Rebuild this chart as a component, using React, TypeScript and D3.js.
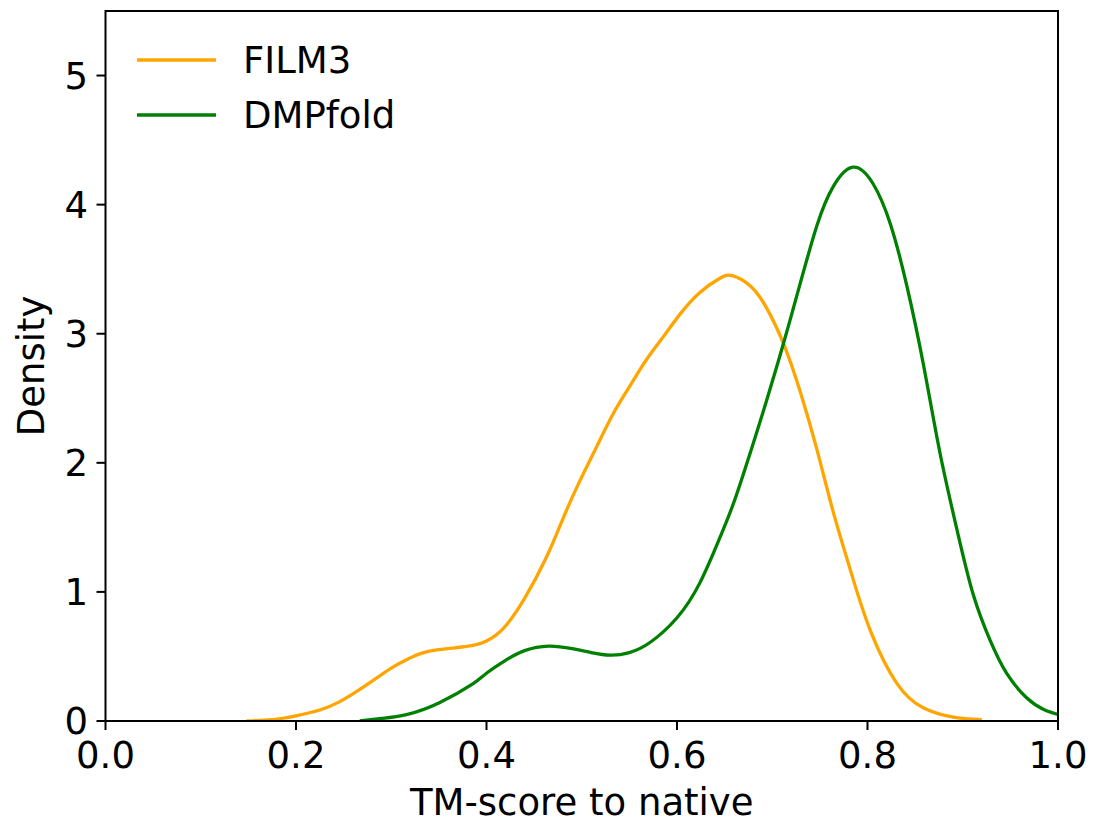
import React from "react";
import * as d3 from "d3";

const film3X = [0.148, 0.175, 0.2, 0.225, 0.246, 0.265, 0.281, 0.3, 0.316, 0.337, 0.365, 0.386, 0.4, 0.418, 0.44, 0.463, 0.481, 0.498, 0.516, 0.533, 0.551, 0.568, 0.586, 0.603, 0.624, 0.645, 0.658, 0.677, 0.694, 0.712, 0.729, 0.747, 0.764, 0.782, 0.803, 0.831, 0.859, 0.89, 0.92];
const film3Y = [0.0, 0.01, 0.04, 0.085, 0.15, 0.235, 0.315, 0.41, 0.475, 0.535, 0.565, 0.585, 0.62, 0.72, 0.95, 1.27, 1.58, 1.86, 2.13, 2.38, 2.6, 2.8, 2.98, 3.15, 3.32, 3.43, 3.45, 3.37, 3.2, 2.92, 2.56, 2.1, 1.62, 1.17, 0.7, 0.29, 0.1, 0.03, 0.01];

const dmpX = [0.267, 0.29, 0.316, 0.35, 0.386, 0.4, 0.42, 0.44, 0.465, 0.49, 0.51, 0.53, 0.55, 0.572, 0.6, 0.624, 0.645, 0.66, 0.677, 0.694, 0.712, 0.729, 0.747, 0.764, 0.785, 0.806, 0.824, 0.841, 0.859, 0.876, 0.894, 0.911, 0.929, 0.946, 0.967, 0.985, 1.0];
const dmpY = [0.0, 0.02, 0.05, 0.14, 0.29, 0.37, 0.47, 0.545, 0.58, 0.56, 0.53, 0.51, 0.53, 0.61, 0.8, 1.07, 1.42, 1.7, 2.08, 2.48, 2.93, 3.38, 3.84, 4.14, 4.29, 4.16, 3.85, 3.38, 2.75, 2.08, 1.48, 0.98, 0.62, 0.37, 0.18, 0.09, 0.05];

const xTicks = [0.0, 0.2, 0.4, 0.6, 0.8, 1.0];
const yTicks = [0, 1, 2, 3, 4, 5];

const seriesNames = ["FILM3", "DMPfold"];
const seriesColors = ["#ffa500", "#008000"];

export default function App() {
  const W = 1093, H = 823;
  const left = 105.5, right = 1058, top = 11, bottom = 721;
  const x = d3.scaleLinear().domain([0, 1]).range([left, right]);
  const y = d3.scaleLinear().domain([0, 5.5]).range([bottom, top]);
  const line = d3
    .line<[number, number]>()
    .x((d) => x(d[0]))
    .y((d) => y(d[1]))
    .curve(d3.curveNatural);
  const series = [
    film3X.map((v, i) => [v, film3Y[i]] as [number, number]),
    dmpX.map((v, i) => [v, dmpY[i]] as [number, number]),
  ];
  const font = "DejaVu Sans, sans-serif";
  const fs = 37;
  return (
    <svg width={W} height={H} style={{ position: "absolute", left: 0, top: 0, background: "#fff" }} fontFamily={font}>
      <defs>
        <clipPath id="plotclip">
          <rect x={left} y={top} width={right - left} height={bottom - top} />
        </clipPath>
      </defs>
      <rect x={0} y={0} width={W} height={H} fill="#fff" />
      <g clipPath="url(#plotclip)">
        {series.map((s, i) => (
          <path key={i} d={line(s) || ""} fill="none" stroke={seriesColors[i]} strokeWidth={3.3} strokeLinejoin="round" strokeLinecap="butt" />
        ))}
      </g>
      <rect x={left} y={top} width={right - left} height={bottom - top} fill="none" stroke="#000" strokeWidth={2} />
      {xTicks.map((t) => (
        <g key={"x" + t}>
          <line x1={x(t)} x2={x(t)} y1={bottom} y2={bottom + 9} stroke="#000" strokeWidth={2} />
          <text x={x(t)} y={768} fontSize={fs} textAnchor="middle" fill="#000">
            {t.toFixed(1)}
          </text>
        </g>
      ))}
      {yTicks.map((t) => (
        <g key={"y" + t}>
          <line x1={left - 9} x2={left} y1={y(t)} y2={y(t)} stroke="#000" strokeWidth={2} />
          <text x={88} y={y(t)} dy="0.36em" fontSize={fs} textAnchor="end" fill="#000">
            {t}
          </text>
        </g>
      ))}
      <text x={(left + right) / 2} y={815} fontSize={fs} textAnchor="middle" fill="#000">
        TM-score to native
      </text>
      <text transform={`translate(44,${(top + bottom) / 2}) rotate(-90)`} fontSize={fs} textAnchor="middle" fill="#000">
        Density
      </text>
      {seriesNames.map((n, i) => (
        <g key={n}>
          <line x1={137} x2={216} y1={60 + i * 55} y2={60 + i * 55} stroke={seriesColors[i]} strokeWidth={3.3} />
          <text x={243} y={60 + i * 55} dy="0.36em" fontSize={fs} fill="#000">
            {n}
          </text>
        </g>
      ))}
    </svg>
  );
}
